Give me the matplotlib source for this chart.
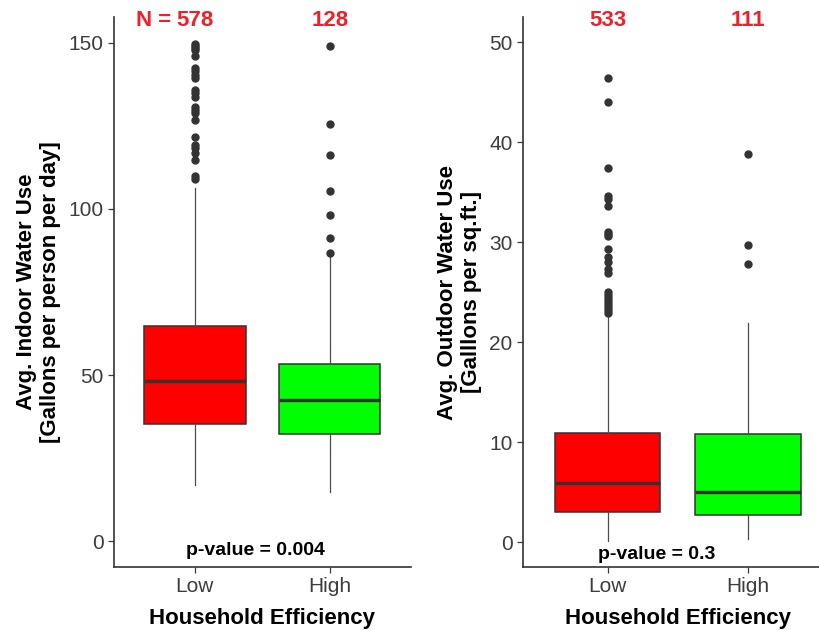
import matplotlib
matplotlib.use("Agg")
import matplotlib.pyplot as plt

plt.rcParams['font.family'] = ['Liberation Sans', 'DejaVu Sans']

groups = ["Low", "High"]
box_colors = ["#FF0000", "#00FF00"]

# Indoor water use (gallons per person per day)
indoor_n = [578, 128]
indoor_q1 = [35.4, 32.1]
indoor_med = [48.1, 42.6]
indoor_q3 = [64.9, 53.3]
indoor_lo = [16.9, 14.7]
indoor_hi = [106.4, 86.0]
indoor_out_low = [149.6, 149.1, 148.6, 147.9, 146.1, 142.4, 141.4, 140.3, 139.4,
                  135.8, 134.8, 133.8, 130.8, 129.8, 128.8, 126.8, 121.8, 119.3,
                  118.3, 116.8, 114.8, 109.8, 109.0]
indoor_out_high = [149.1, 125.6, 116.2, 105.5, 98.3, 91.4, 86.8]
indoor_p = "p-value = 0.004"

# Outdoor water use (gallons per sq.ft.)
outdoor_n = [533, 111]
outdoor_q1 = [3.0, 2.7]
outdoor_med = [5.9, 5.0]
outdoor_q3 = [10.9, 10.8]
outdoor_lo = [0.1, 0.3]
outdoor_hi = [22.7, 21.9]
outdoor_out_low = [46.4, 44.0, 37.4, 34.6, 34.3, 33.6, 31.0, 30.8, 30.6, 29.3,
                   28.5, 28.0, 27.3, 26.9, 25.0, 24.7, 24.4, 24.1, 23.8, 23.5,
                   23.2, 22.9]
outdoor_out_high = [38.8, 29.7, 27.8]
outdoor_p = "p-value = 0.3"


def make_stats(q1, med, q3, lo, hi, outs):
    stats = []
    for i in range(len(groups)):
        stats.append(dict(q1=q1[i], med=med[i], q3=q3[i], whislo=lo[i],
                          whishi=hi[i], fliers=outs[i], label=groups[i]))
    return stats


def draw_panel(ax, stats, counts, ylim, yticks, ylabel, ptext, py, ny, prefix):
    bp = ax.bxp(stats, positions=[1, 2], widths=0.75, patch_artist=True,
                showcaps=False,
                boxprops=dict(edgecolor="#333333", linewidth=1.1),
                medianprops=dict(color="#333333", linewidth=2.4),
                whiskerprops=dict(color="#4d4d4d", linewidth=0.9),
                flierprops=dict(marker="o", markerfacecolor="#333333",
                                markeredgecolor="#333333", markersize=5))
    for patch, c in zip(bp["boxes"], box_colors):
        patch.set_facecolor(c)

    ax.set_xlim(0.4, 2.6)
    ax.set_ylim(*ylim)
    ax.set_yticks(yticks)
    ax.set_xticks([1, 2])
    ax.set_xticklabels(groups)
    ax.tick_params(labelsize=15, colors="#3d3d3d", length=4, width=0.9)
    for s in ["top", "right"]:
        ax.spines[s].set_visible(False)
    for s in ["left", "bottom"]:
        ax.spines[s].set_color("#333333")
        ax.spines[s].set_linewidth(1.2)
    ax.set_xlabel("Household Efficiency", fontsize=16, fontweight="bold", labelpad=8)
    ax.set_ylabel(ylabel, fontsize=16, fontweight="bold", labelpad=5)

    for i, n in enumerate(counts):
        t = ax.text(i + 1, ny, str(n), color="#F0202A", fontsize=16,
                    fontweight="bold", ha="center", va="center", clip_on=False)
        if i == 0 and prefix:
            ax.annotate("N =", xy=(0, 0.5), xycoords=t, xytext=(-4, 0),
                        textcoords="offset points", color="#F0202A",
                        fontsize=16, fontweight="bold", ha="right", va="center")
    ax.text(0.935, py, ptext, fontsize=14, fontweight="bold", ha="left",
            va="center", color="black")


fig = plt.figure(figsize=(8.2, 6.3), dpi=100)
ax1 = fig.add_axes([0.139, 0.1, 0.362, 0.873])
ax2 = fig.add_axes([0.638, 0.1, 0.3774, 0.873])

draw_panel(ax1,
           make_stats(indoor_q1, indoor_med, indoor_q3, indoor_lo, indoor_hi,
                      [indoor_out_low, indoor_out_high]),
           indoor_n, (-7.8, 157.8), [0, 50, 100, 150],
           "Avg. Indoor Water Use\n[Gallons per person per day]",
           indoor_p, -2.9, 156.8, True)

draw_panel(ax2,
           make_stats(outdoor_q1, outdoor_med, outdoor_q3, outdoor_lo, outdoor_hi,
                      [outdoor_out_low, outdoor_out_high]),
           outdoor_n, (-2.5, 52.5), [0, 10, 20, 30, 40, 50],
           "Avg. Outdoor Water Use\n[Galllons per sq.ft.]",
           outdoor_p, -1.2, 52.2, False)

fig.savefig("out.png", dpi=100)
plt.close(fig)
